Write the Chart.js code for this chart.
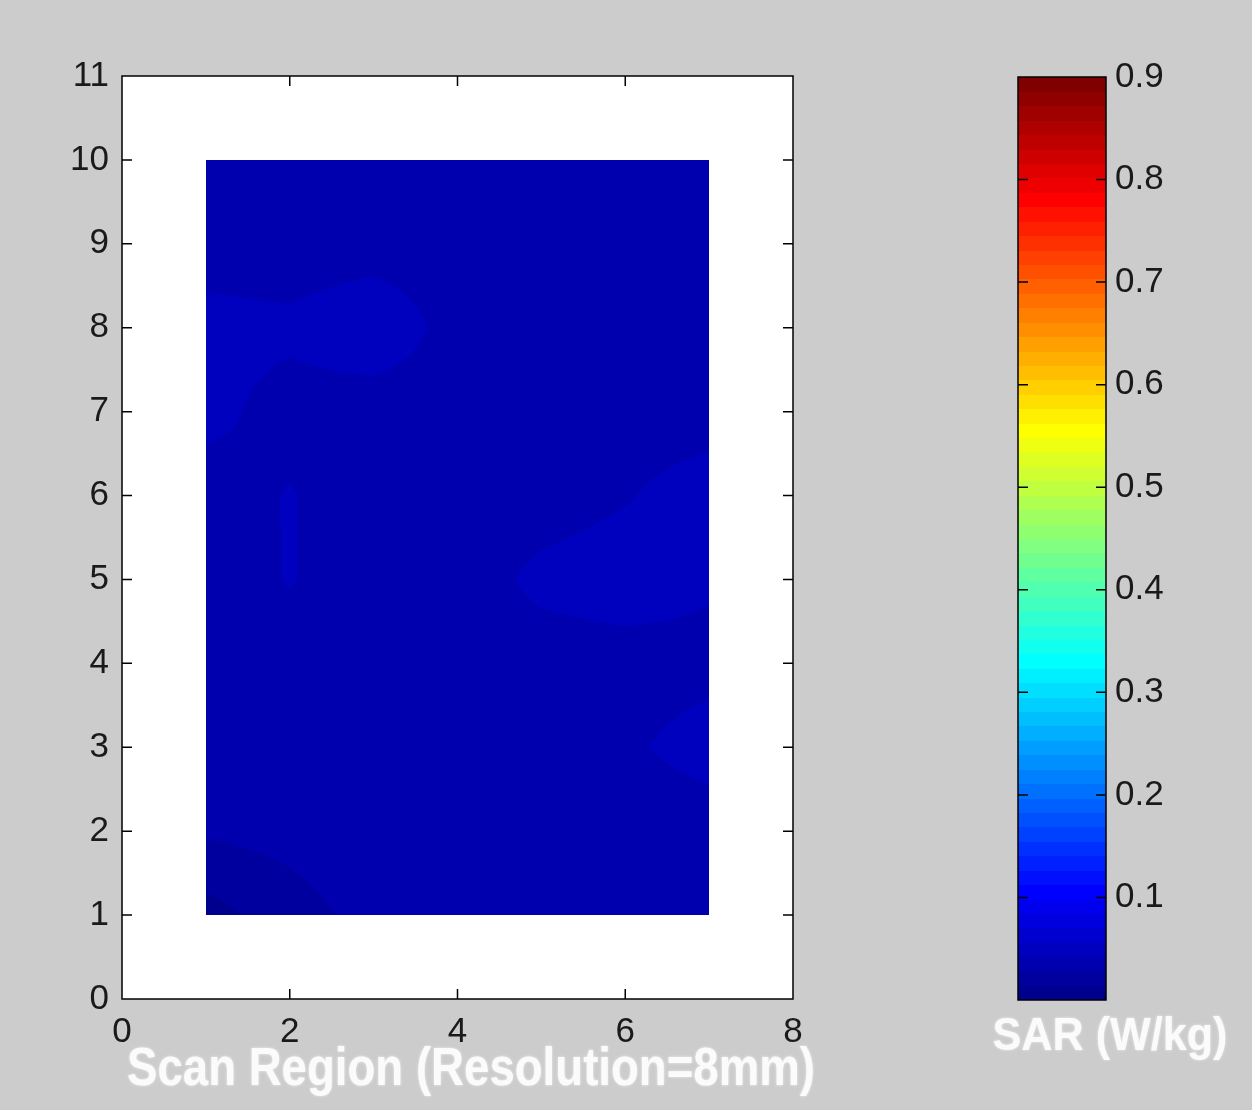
<!DOCTYPE html>
<html><head><meta charset="utf-8">
<script src="https://cdn.jsdelivr.net/npm/chart.js@4"></script>
<style>
html,body{margin:0;padding:0;background:#cccccc;}
#wrap{position:relative;width:1252px;height:1110px;overflow:hidden;}
canvas{position:absolute;left:0;top:0;}
</style></head><body>
<div id="wrap"><canvas id="main" width="1252" height="1110"></canvas><canvas id="cbar" width="1252" height="1110"></canvas></div>
<script>
// ---- data ----
const xTicks = [0, 2, 4, 6, 8];
const yTicks = [0, 1, 2, 3, 4, 5, 6, 7, 8, 9, 10, 11];
const gridX = [1, 2, 3, 4, 5, 6, 7];
const gridY = [10, 9, 8, 7, 6, 5, 4, 3, 2, 1];
// SAR (W/kg) at scan nodes, rows follow gridY (top to bottom), columns follow gridX
const sarRow10 = [0.035, 0.035, 0.035, 0.035, 0.035, 0.035, 0.035];
const sarRow9  = [0.037, 0.035, 0.036, 0.035, 0.035, 0.035, 0.035];
const sarRow8  = [0.046, 0.045, 0.052, 0.037, 0.035, 0.035, 0.035];
const sarRow7  = [0.046, 0.037, 0.035, 0.035, 0.035, 0.035, 0.035];
const sarRow6  = [0.036, 0.043, 0.034, 0.034, 0.035, 0.041, 0.050];
const sarRow5  = [0.035, 0.043, 0.034, 0.034, 0.046, 0.050, 0.044];
const sarRow4  = [0.035, 0.035, 0.034, 0.034, 0.035, 0.036, 0.038];
const sarRow3  = [0.034, 0.034, 0.034, 0.034, 0.035, 0.040, 0.048];
const sarRow2  = [0.030, 0.033, 0.037, 0.035, 0.034, 0.034, 0.035];
const sarRow1  = [0.008, 0.022, 0.033, 0.034, 0.034, 0.034, 0.034];
const sarGrid = [sarRow10, sarRow9, sarRow8, sarRow7, sarRow6, sarRow5, sarRow4, sarRow3, sarRow2, sarRow1];
const cbarMin = 0, cbarMax = 0.9;
const cbarTicks = [0.1, 0.2, 0.3, 0.4, 0.5, 0.6, 0.7, 0.8, 0.9];
const colorLevels = 64;
const xTitle = 'Scan Region (Resolution=8mm)';
const cbarTitle = 'SAR (W/kg)';

// ---- jet colormap (MATLAB) ----
function jetU(k){ if(k<1||k>47) return 0; if(k<=16) return k/16; if(k<=31) return 1; return (48-k)/16; }
function jetColor(i){ // i: 1..64
  return [Math.round(255*jetU(i-24)), Math.round(255*jetU(i-8)), Math.round(255*jetU(i+8))];
}
function valueIndex(v){
  let i = Math.floor((v-cbarMin)/(cbarMax-cbarMin)*colorLevels)+1;
  return Math.max(1, Math.min(colorLevels, i));
}
function sampleGrid(x, y){
  const xs = gridX, ys = gridY;
  let cx = (x - xs[0])/(xs[1]-xs[0]);
  let cy = (y - ys[0])/(ys[1]-ys[0]);
  cx = Math.max(0, Math.min(xs.length-1, cx));
  cy = Math.max(0, Math.min(ys.length-1, cy));
  const i0 = Math.min(xs.length-2, Math.floor(cx)), j0 = Math.min(ys.length-2, Math.floor(cy));
  const fx = cx - i0, fy = cy - j0;
  const a = sarGrid[j0][i0], b = sarGrid[j0][i0+1], c = sarGrid[j0+1][i0], d = sarGrid[j0+1][i0+1];
  return a*(1-fx)*(1-fy) + b*fx*(1-fy) + c*(1-fx)*fy + d*fx*fy;
}

const tickFont = {family: "'Liberation Sans', Arial, sans-serif", size: 35, weight: 'normal'};
const tickColor = '#1a1a1a';

function drawTitle(ctx, text, cx, baseline, size, width){
  ctx.save();
  ctx.font = 'bold ' + size + "px 'Liberation Sans', Arial, sans-serif";
  const w = ctx.measureText(text).width;
  ctx.translate(cx, baseline);
  ctx.scale(width / w, 1);
  ctx.textAlign = 'center';
  ctx.textBaseline = 'alphabetic';
  ctx.shadowColor = 'rgba(255,255,255,0.7)';
  ctx.shadowBlur = 3;
  ctx.fillStyle = '#fbfbfb';
  ctx.fillText(text, 0, 0);
  ctx.restore();
}

const heatPlugin = {
  id: 'heat',
  beforeDraw(chart){
    const a = chart.chartArea, ctx = chart.ctx;
    ctx.save();
    ctx.fillStyle = '#ffffff';
    ctx.fillRect(a.left, a.top, a.right-a.left, a.bottom-a.top);
    ctx.restore();
  },
  beforeDatasetsDraw(chart){
    const xs = chart.scales.x, ys = chart.scales.y, ctx = chart.ctx;
    const px0 = Math.round(xs.getPixelForValue(gridX[0])), px1 = Math.round(xs.getPixelForValue(gridX[gridX.length-1]));
    const py0 = Math.round(ys.getPixelForValue(gridY[0])), py1 = Math.round(ys.getPixelForValue(gridY[gridY.length-1]));
    const w = px1 - px0, h = py1 - py0;
    const off = document.createElement('canvas'); off.width = w; off.height = h;
    const octx = off.getContext('2d');
    const img = octx.createImageData(w, h);
    for(let r=0;r<h;r++){
      const yv = ys.getValueForPixel(py0 + r + 0.5);
      for(let c=0;c<w;c++){
        const xv = xs.getValueForPixel(px0 + c + 0.5);
        const col = jetColor(valueIndex(sampleGrid(xv, yv)));
        const k = (r*w + c)*4;
        img.data[k]=col[0]; img.data[k+1]=col[1]; img.data[k+2]=col[2]; img.data[k+3]=255;
      }
    }
    octx.putImageData(img, 0, 0);
    ctx.drawImage(off, px0, py0);
  }
};

const framePlugin = {
  id: 'frame',
  afterDraw(chart){
    const ctx = chart.ctx, a = chart.chartArea, xs = chart.scales.x, ys = chart.scales.y;
    ctx.save();
    ctx.strokeStyle = '#000'; ctx.lineWidth = 1.5;
    ctx.strokeRect(a.left, a.top, a.right-a.left, a.bottom-a.top);
    const L = 10;
    ctx.beginPath();
    xs.ticks.forEach(t=>{
      const p = xs.getPixelForValue(t.value);
      if (p <= a.left+1 || p >= a.right-1) return;
      ctx.moveTo(p, a.bottom); ctx.lineTo(p, a.bottom-L);
      ctx.moveTo(p, a.top); ctx.lineTo(p, a.top+L);
    });
    ys.ticks.forEach(t=>{
      const p = ys.getPixelForValue(t.value);
      if (p >= a.bottom-1 || p <= a.top+1) return;
      ctx.moveTo(a.left, p); ctx.lineTo(a.left+L, p);
      ctx.moveTo(a.right, p); ctx.lineTo(a.right-L, p);
    });
    ctx.stroke();
    ctx.restore();
    drawTitle(ctx, xTitle, 471, 1085, 53, 688);
  }
};

new Chart(document.getElementById('main'), {
  type: 'scatter',
  data: { datasets: [{ data: [], pointRadius: 0 }] },
  options: {
    responsive: false, animation: false, events: [],
    layout: { padding: { left: 0, top: 76, right: 459, bottom: 0 } },
    plugins: { legend: { display: false }, tooltip: { enabled: false } },
    scales: {
      x: {
        type: 'linear', position: 'bottom', min: 0, max: 8,
        afterBuildTicks: s => { s.ticks = xTicks.map(v => ({ value: v })); },
        afterFit: s => { s.height = 111; },
        ticks: { padding: 12, font: tickFont, color: tickColor, maxRotation: 0, autoSkip: false },
        grid: { display: false, drawTicks: false }, border: { display: false }
      },
      y: {
        type: 'linear', position: 'left', min: 0, max: 11,
        afterBuildTicks: s => { s.ticks = yTicks.map(v => ({ value: v })); },
        afterFit: s => { s.width = 122; },
        ticks: { padding: 13, font: tickFont, color: tickColor, autoSkip: false },
        grid: { display: false, drawTicks: false }, border: { display: false }
      }
    }
  },
  plugins: [heatPlugin, framePlugin]
});

const cbarPlugin = {
  id: 'cbarDraw',
  beforeDatasetsDraw(chart){
    const ctx = chart.ctx, a = chart.chartArea, ys = chart.scales.y;
    for(let i=1;i<=colorLevels;i++){
      const v0 = cbarMin + (i-1)*(cbarMax-cbarMin)/colorLevels;
      const v1 = cbarMin + i*(cbarMax-cbarMin)/colorLevels;
      const yb = ys.getPixelForValue(v0), yt = ys.getPixelForValue(v1);
      const c = jetColor(i);
      ctx.fillStyle = 'rgb('+c[0]+','+c[1]+','+c[2]+')';
      ctx.fillRect(a.left, Math.floor(yt), a.right-a.left, Math.ceil(yb)-Math.floor(yt));
    }
  },
  afterDraw(chart){
    const ctx = chart.ctx, a = chart.chartArea, ys = chart.scales.y;
    ctx.save();
    ctx.strokeStyle = '#000'; ctx.lineWidth = 1.5;
    ctx.strokeRect(a.left, a.top, a.right-a.left, a.bottom-a.top);
    const L = 10;
    ctx.beginPath();
    ys.ticks.forEach(t=>{
      const p = ys.getPixelForValue(t.value);
      if (p >= a.bottom-1 || p <= a.top+1) return;
      ctx.moveTo(a.left, p); ctx.lineTo(a.left+L, p);
      ctx.moveTo(a.right, p); ctx.lineTo(a.right-L, p);
    });
    ctx.stroke();
    ctx.restore();
    drawTitle(ctx, cbarTitle, 1110, 1050, 47, 235);
  }
};

new Chart(document.getElementById('cbar'), {
  type: 'scatter',
  data: { datasets: [{ data: [], pointRadius: 0 }] },
  options: {
    responsive: false, animation: false, events: [],
    layout: { padding: { left: 1018, top: 77, right: 0, bottom: 110 } },
    plugins: { legend: { display: false }, tooltip: { enabled: false } },
    scales: {
      x: { type: 'linear', display: false, min: 0, max: 1 },
      y: {
        type: 'linear', position: 'right', min: cbarMin, max: cbarMax,
        afterBuildTicks: s => { s.ticks = cbarTicks.map(v => ({ value: v })); },
        afterFit: s => { s.width = 146; },
        ticks: { padding: 9, font: tickFont, color: tickColor, autoSkip: false, callback: v => v.toFixed(1) },
        grid: { display: false, drawTicks: false }, border: { display: false }
      }
    }
  },
  plugins: [cbarPlugin]
});
</script>
</body></html>
